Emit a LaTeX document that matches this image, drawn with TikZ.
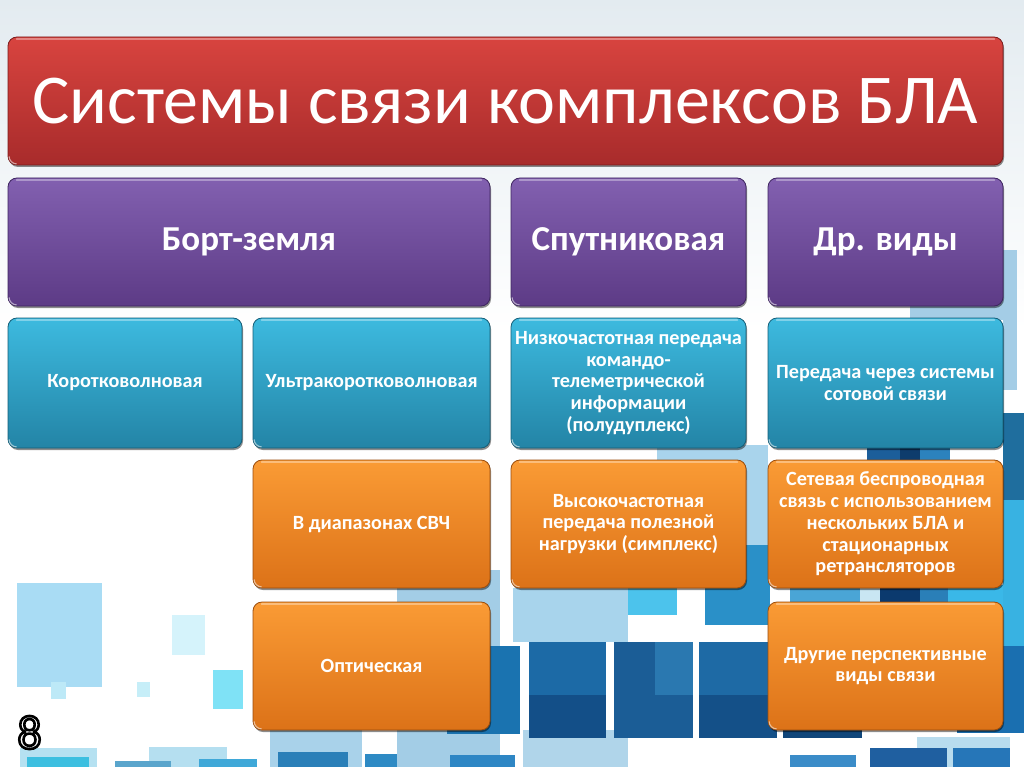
\documentclass[tikz,border=0pt]{standalone}
\usepackage{fontspec}
\setmainfont{Carlito}
\usetikzlibrary{shadows}
\definecolor{redT}{HTML}{D8443F}
\definecolor{redB}{HTML}{A82B2B}
\definecolor{redD}{HTML}{7A1C1C}
\definecolor{purT}{HTML}{8260B0}
\definecolor{purB}{HTML}{5D3B86}
\definecolor{purD}{HTML}{3E2560}
\definecolor{cyaT}{HTML}{3DBADF}
\definecolor{cyaB}{HTML}{2384A6}
\definecolor{cyaD}{HTML}{155E78}
\definecolor{oraT}{HTML}{FA9B35}
\definecolor{oraB}{HTML}{DC7218}
\definecolor{oraD}{HTML}{9A4C0C}
\definecolor{bgTop}{HTML}{E3EBF0}
\newcommand\bgrect[5]{\definecolor{sqcol}{HTML}{#1}\fill[sqcol] (#2,#3) rectangle (#4,#5);}
\newcommand\outlined[1]{\special{pdf:literal direct 0 G 2 Tr 2.6 w 1 j}#1\special{pdf:literal direct 0 Tr}}
\tikzset{
  box/.style={rounded corners=9pt, line width=0.8pt, inner sep=2pt, align=center,
    text=white, drop shadow={shadow xshift=1pt, shadow yshift=-2pt, opacity=0.45, fill=black}},
  redbox/.style={box, top color=redT, bottom color=redB, draw=redD,
    font=\fontsize{70}{84}\selectfont},
  purplebox/.style={box, top color=purT, bottom color=purB, draw=purD,
    font=\bfseries\fontsize{35}{40}\selectfont},
  cyanbox/.style={box, top color=cyaT, bottom color=cyaB, draw=cyaD,
    font=\bfseries\fontsize{20.2}{21.7}\selectfont},
  orangebox/.style={box, top color=oraT, bottom color=oraB, draw=oraD,
    font=\bfseries\fontsize{20.2}{21.7}\selectfont},
  gloss/.style={white, opacity=0.35, line width=1.6pt, line cap=round},
  eightfont/.style={font=\fontsize{48}{52}\selectfont, inner sep=0pt}
}
\begin{document}
\begin{tikzpicture}[x=1pt,y=-1pt]
\useasboundingbox (0,0) rectangle (1024,767);
% background
\fill[white] (0,0) rectangle (1024,767);
\shade[top color=bgTop, bottom color=white] (0,0) rectangle (1024,330);
% decorative squares
\bgrect{A9DCF4}{17}{583}{102}{687}
\bgrect{BDE9F7}{51}{682}{66}{699}
\bgrect{D5F3FB}{172}{615}{205}{655}
\bgrect{C6EEF8}{137}{682}{150}{697}
\bgrect{7FE2F6}{213}{670}{243}{709}
\bgrect{B5E1F1}{20}{748}{97}{767}
\bgrect{3CBFE0}{27}{757}{89}{767}
\bgrect{B5DFF0}{149}{747}{227}{767}
\bgrect{5AA5CC}{115}{761}{171}{767}
\bgrect{3FA8D8}{199}{759}{257}{767}
\bgrect{A9D2EA}{270}{727}{362}{767}
\bgrect{2A7FB8}{278}{752}{348}{767}
\bgrect{2E8AC4}{365}{754}{430}{767}
\bgrect{A3CDE6}{397}{570}{500}{767}
\bgrect{1A73B0}{447}{646}{520}{734}
\bgrect{2E86C4}{450}{755}{515}{767}
\bgrect{A8D4EC}{513}{588}{628}{642}
\bgrect{B0D5EA}{523}{730}{628}{767}
\bgrect{4CC3EC}{628}{588}{677}{615}
\bgrect{A9D4EC}{657}{445}{768}{480}
\bgrect{A9D4EC}{747}{480}{768}{545}
\bgrect{2A90C8}{705}{545}{770}{625}
\bgrect{1C6AA6}{529}{642}{606}{695}
\bgrect{134F88}{529}{695}{606}{738}
\bgrect{1B5D96}{614}{642}{693}{738}
\bgrect{2A78B0}{655}{642}{693}{695}
\bgrect{1E6AA5}{699}{642}{777}{695}
\bgrect{145088}{699}{695}{777}{738}
\bgrect{10467A}{783}{725}{862}{738}
\bgrect{1A6FB0}{957}{646}{1024}{733}
\bgrect{3B8CC8}{790}{755}{856}{767}
\bgrect{B8DCEE}{917}{737}{1010}{767}
\bgrect{1F5FA0}{870}{748}{947}{767}
\bgrect{2676B8}{953}{748}{1010}{767}
\bgrect{4AA5D6}{790}{585}{860}{605}
\bgrect{C9E6F3}{860}{585}{880}{605}
\bgrect{0B3A6E}{880}{585}{920}{605}
\bgrect{2A7FB8}{920}{585}{948}{605}
\bgrect{3AB8E8}{948}{585}{1024}{625}
\bgrect{A4CDE6}{1003}{250}{1017}{390}
\bgrect{A4CDE6}{910}{300}{1003}{320}
\bgrect{1F6E9E}{1003}{413}{1024}{500}
\bgrect{38B2E2}{1003}{500}{1024}{646}
\bgrect{0E3C6C}{900}{440}{920}{465}
\bgrect{2C82BD}{920}{440}{950}{465}
\bgrect{1C5E9A}{867}{445}{900}{465}
% boxes
\node[redbox, minimum width=995pt, minimum height=128pt] (title) at (505.5,101) {Системы связи комплексов БЛА};
\node[purplebox, minimum width=482pt, minimum height=128pt] (bz) at (249,242) {Борт-земля};
\node[purplebox, minimum width=235pt, minimum height=128pt] (sp) at (628.5,242) {Спутниковая};
\node[purplebox, minimum width=235pt, minimum height=128pt] (dr) at (885.5,242) {Др. виды};
\node[cyanbox, minimum width=234pt, minimum height=130pt] (kv) at (125,383) {Коротковолновая};
\node[cyanbox, minimum width=237pt, minimum height=130pt] (ukv) at (371.5,383) {Ультракоротковолновая};
\node[cyanbox, minimum width=235pt, minimum height=130pt] (nch) at (628.5,383) {Низкочастотная передача\\командо-\\телеметрической\\информации\\(полудуплекс)};
\node[cyanbox, minimum width=235pt, minimum height=130pt] (sot) at (885.5,383) {Передача через системы\\сотовой связи};
\node[orangebox, minimum width=237pt, minimum height=128pt] (svch) at (371.5,524) {В диапазонах СВЧ};
\node[orangebox, minimum width=235pt, minimum height=128pt] (vch) at (628.5,524) {Высокочастотная\\передача полезной\\нагрузки (симплекс)};
\node[orangebox, minimum width=235pt, minimum height=128pt] (set) at (885.5,524) {Сетевая беспроводная\\связь с использованием\\нескольких БЛА и\\стационарных\\ретрансляторов};
\node[orangebox, minimum width=237pt, minimum height=128pt] (opt) at (371.5,666) {Оптическая};
\node[orangebox, minimum width=235pt, minimum height=128pt] (dru) at (885.5,666) {Другие перспективные\\виды связи};
% gloss highlights
\foreach \n in {title,bz,sp,dr,kv,ukv,nch,sot,svch,vch,set,opt,dru}{
  \draw[gloss] ([xshift=9pt,yshift=-2.5pt]\n.north west) -- ([xshift=-9pt,yshift=-2.5pt]\n.north east);
  \draw[white, opacity=0.55, line width=1.2pt] ([xshift=1.5pt,yshift=9pt]\n.south west) arc[start angle=180, end angle=270, radius=7.5pt];
}
% slide number
\node[eightfont, text=white] (eight) at (29.5,732.5) {\outlined{8}};
\end{tikzpicture}
\end{document}
